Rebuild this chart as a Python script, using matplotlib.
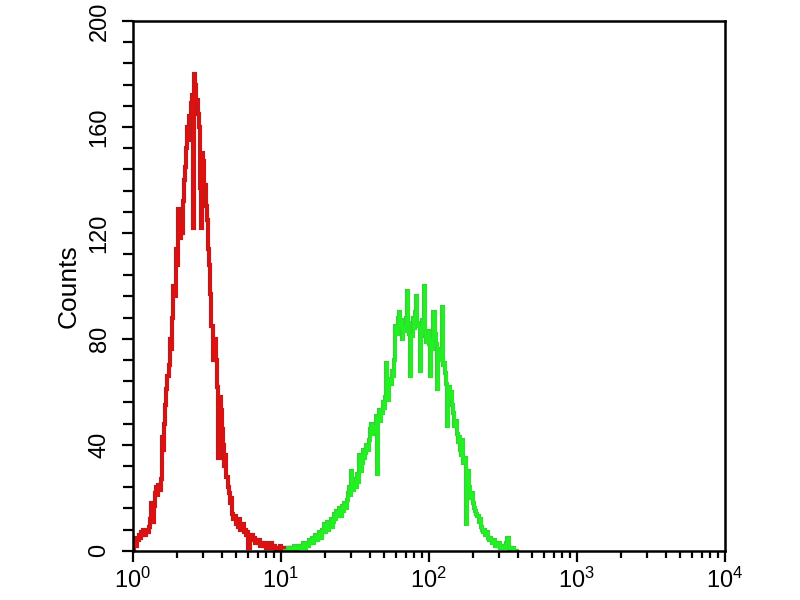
import numpy as np
import matplotlib
matplotlib.use("Agg")
import matplotlib.pyplot as plt
import matplotlib.patheffects as pe
from matplotlib.ticker import LogLocator, MultipleLocator, LogFormatterSciNotation

# channel resolution of the histogram (channels per decade)
CH_PER_DECADE = 128

# red histogram: counts per channel, starting at channel 0 (= 10^0)
red_start = 0
red_counts = [
    0, 3, 5, 2, 4, 6,
    5, 7, 6, 8, 6, 7,
    8, 7, 9, 12, 18, 11,
    17, 22, 24, 21, 25, 23,
    27, 43, 38, 48, 55, 61,
    66, 70, 80, 76, 88, 100,
    96, 114, 108, 129, 125, 118,
    120, 132, 140, 145, 152, 160,
    155, 164, 169, 172, 122, 180,
    176, 170, 165, 160, 137, 122,
    150, 147, 138, 130, 125, 114,
    108, 97, 85, 72, 76, 80,
    72, 62, 35, 58, 53, 46,
    40, 32, 36, 28, 24, 22,
    18, 20, 14, 12, 13, 10,
    11, 9, 12, 8, 9, 10,
    7, 8, 6, 7, 1, 6,
    5, 6, 4, 5, 3, 4,
    3, 4, 2, 3, 3, 2,
    3, 1, 2, 2, 1, 3,
    2, 1, 2, 1, 0, 1,
    1, 2, 0, 1, 1, 0,
    1, 0, 1, 0, 0, 1,
    0, 0, 0,
]

# green histogram: counts per channel, starting at channel 130
green_start = 130
green_counts = [
    0, 0, 0, 0, 1, 0,
    1, 0, 1, 2, 1, 0,
    1, 2, 1, 2, 1, 3,
    2, 1, 3, 2, 4, 3,
    4, 5, 3, 5, 6, 4,
    5, 7, 6, 5, 8, 10,
    7, 9, 11, 8, 10, 12,
    9, 11, 14, 12, 15, 13,
    16, 14, 13, 17, 15, 18,
    16, 19, 22, 24, 21, 30,
    23, 25, 27, 24, 29, 26,
    36, 30, 33, 38, 35, 37,
    40, 38, 42, 46, 48, 44,
    47, 45, 51, 29, 50, 53,
    49, 52, 56, 54, 58, 71,
    60, 57, 65, 63, 68, 66,
    72, 85, 82, 88, 90, 84,
    87, 80, 85, 83, 88, 98,
    86, 82, 66, 81, 88, 84,
    90, 96, 86, 85, 68, 82,
    87, 84, 100, 81, 79, 83,
    78, 66, 80, 76, 90, 82,
    78, 61, 76, 74, 72, 92,
    70, 71, 67, 63, 47, 62,
    58, 60, 55, 52, 47, 49,
    44, 41, 43, 38, 36, 42,
    33, 35, 10, 28, 30, 24,
    20, 22, 18, 16, 15, 14,
    13, 11, 12, 9, 8, 7,
    8, 6, 7, 5, 4, 5,
    4, 3, 4, 2, 3, 2,
    2, 3, 1, 2, 1, 2,
    1, 3, 5, 1, 0, 1,
    0, 1, 0, 0, 0, 0,
]


def channel_edges(start, n):
    # channel number -> fluorescence intensity (4-decade log scale)
    ch = start + np.arange(n + 1)
    return 10.0 ** (ch / CH_PER_DECADE)


plt.rcParams["font.family"] = ["Liberation Sans", "DejaVu Sans"]

fig = plt.figure(figsize=(8, 6), dpi=100)
ax = fig.add_axes([0.166, 0.082, 0.74, 0.883])

ax.stairs(red_counts, channel_edges(red_start, len(red_counts)),
          color="#e01010", linewidth=1.8,
          path_effects=[pe.Stroke(linewidth=3.0, foreground="#b02020"), pe.Normal()])
ax.stairs(green_counts, channel_edges(green_start, len(green_counts)),
          color="#22f022", linewidth=1.8,
          path_effects=[pe.Stroke(linewidth=3.0, foreground="#3ccc3c"), pe.Normal()])

ax.set_xscale("log")
ax.set_xlim(1, 1e4)
ax.set_ylim(0, 200)

ax.xaxis.set_major_locator(LogLocator(base=10, numticks=10))
ax.xaxis.set_minor_locator(LogLocator(base=10, subs=np.arange(2, 10), numticks=10))
ax.xaxis.set_major_formatter(LogFormatterSciNotation())
ax.yaxis.set_major_locator(MultipleLocator(40))
ax.yaxis.set_minor_locator(MultipleLocator(8))

ax.tick_params(which="both", direction="out", width=1.6, color="black")
ax.tick_params(which="major", length=8, labelsize=17)
ax.tick_params(axis="x", which="minor", length=5)
ax.tick_params(axis="y", which="minor", length=7)
ax.tick_params(axis="y", which="major", pad=8)
ax.tick_params(axis="x", which="major", pad=4)
for lab in ax.get_yticklabels():
    lab.set_rotation(90)
    lab.set_va("center")

for sp in ax.spines.values():
    sp.set_linewidth(1.8)

ax.set_ylabel("Counts", fontsize=19, labelpad=6)

fig.savefig("out.png", dpi=100, facecolor="white")
